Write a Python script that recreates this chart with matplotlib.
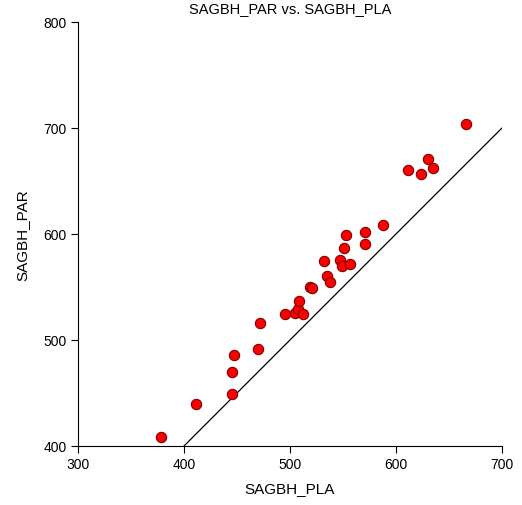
import matplotlib
matplotlib.use('Agg')
import matplotlib.pyplot as plt

plt.rcParams['font.family'] = ['Liberation Sans', 'DejaVu Sans']

sagbh_pla = [378.3, 411.0, 445.3, 445.3, 446.9, 469.5, 471.7, 495.6, 504.7, 508.0,
             508.5, 512.7, 518.4, 521.0, 534.6, 538.0, 532.4, 547.5, 549.1, 556.6,
             550.7, 552.8, 570.5, 570.5, 587.3, 611.0, 623.9, 629.9, 635.2, 666.0]
sagbh_par = [408.2, 439.9, 449.3, 469.8, 486.1, 491.2, 516.0, 524.2, 525.9, 529.0,
             536.6, 524.2, 549.7, 548.8, 560.4, 554.4, 574.8, 575.8, 569.8, 571.4,
             586.8, 599.3, 590.6, 601.6, 608.2, 660.1, 656.3, 670.5, 662.3, 703.5]
ref_line = [400, 700]

fig = plt.figure(figsize=(5.22, 5.06), dpi=100)
ax = fig.add_axes([78/522, 1 - 447/506, 424/522, 424/506])

ax.plot(ref_line, ref_line, color='black', lw=0.9, zorder=1)
ax.scatter(sagbh_pla, sagbh_par, s=55, facecolor='#ff0000', edgecolor='#7a0000',
           linewidth=0.8, zorder=2)

ax.set_xlim(300, 700)
ax.set_ylim(400, 800)
ax.set_xticks([300, 400, 500, 600, 700])
ax.set_yticks([400, 500, 600, 700, 800])
ax.spines['top'].set_visible(False)
ax.spines['right'].set_visible(False)
ax.tick_params(direction='out', length=5, width=0.8, labelsize=10, pad=3)

ax.set_xlabel('SAGBH_PLA', fontsize=11, labelpad=7)
ax.set_ylabel('SAGBH_PAR', fontsize=11, labelpad=10)
fig.text(0.5 * (78 + 502) / 522, 1 - 9/506, 'SAGBH_PAR vs. SAGBH_PLA',
         ha='center', va='center', fontsize=10.5)

fig.savefig('out.png', dpi=100)
